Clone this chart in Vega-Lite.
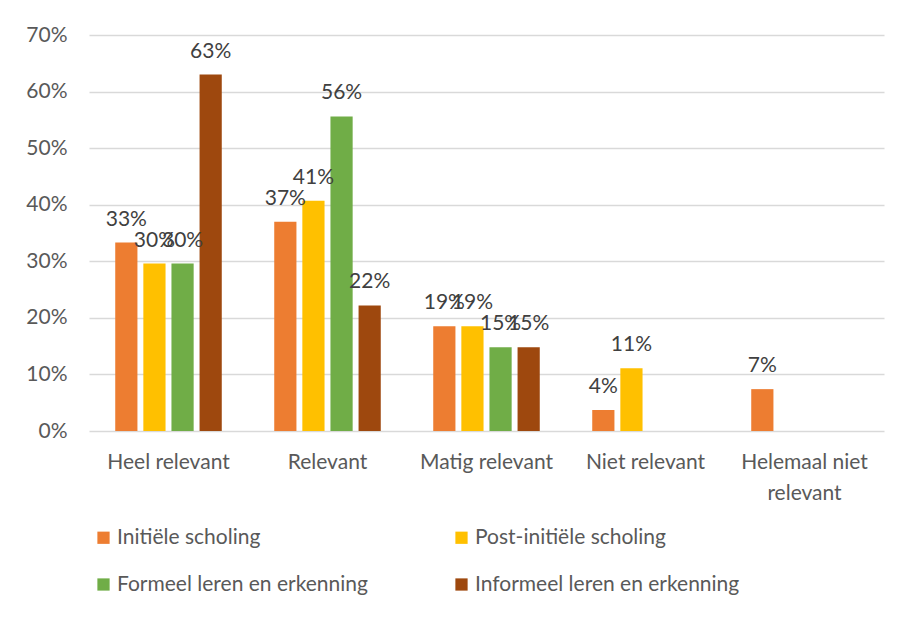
{
  "$schema": "https://vega.github.io/schema/vega-lite/v6.json",
  "width": 795,
  "height": 396,
  "padding": {"left": 25, "top": 24, "right": 15, "bottom": 0},
  "background": "white",
  "data": {
    "values": [
      {"categorie": "Heel relevant", "reeks": "Initiële scholing", "waarde": 0.333},
      {"categorie": "Heel relevant", "reeks": "Post-initiële scholing", "waarde": 0.296},
      {"categorie": "Heel relevant", "reeks": "Formeel leren en erkenning", "waarde": 0.296},
      {"categorie": "Heel relevant", "reeks": "Informeel leren en erkenning", "waarde": 0.630},
      {"categorie": "Relevant", "reeks": "Initiële scholing", "waarde": 0.370},
      {"categorie": "Relevant", "reeks": "Post-initiële scholing", "waarde": 0.407},
      {"categorie": "Relevant", "reeks": "Formeel leren en erkenning", "waarde": 0.556},
      {"categorie": "Relevant", "reeks": "Informeel leren en erkenning", "waarde": 0.222},
      {"categorie": "Matig relevant", "reeks": "Initiële scholing", "waarde": 0.185},
      {"categorie": "Matig relevant", "reeks": "Post-initiële scholing", "waarde": 0.185},
      {"categorie": "Matig relevant", "reeks": "Formeel leren en erkenning", "waarde": 0.148},
      {"categorie": "Matig relevant", "reeks": "Informeel leren en erkenning", "waarde": 0.148},
      {"categorie": "Niet relevant", "reeks": "Initiële scholing", "waarde": 0.037},
      {"categorie": "Niet relevant", "reeks": "Post-initiële scholing", "waarde": 0.111},
      {"categorie": "Helemaal niet relevant", "reeks": "Initiële scholing", "waarde": 0.074}
    ]
  },
  "encoding": {
    "x": {
      "field": "categorie",
      "type": "nominal",
      "sort": ["Heel relevant", "Relevant", "Matig relevant", "Niet relevant", "Helemaal niet relevant"],
      "scale": {"domain": ["Heel relevant", "Relevant", "Matig relevant", "Niet relevant", "Helemaal niet relevant"], "paddingInner": 0.33, "paddingOuter": 0.165},
      "axis": {
        "title": null,
        "labelAngle": 0,
        "labelFontSize": 21,
        "labelColor": "#595959",
        "labelFont": "Lato",
        "labelPadding": 20,
        "labelLineHeight": 31,
        "labelLimit": 300,
        "domain": false,
        "ticks": false,
        "labelExpr": "datum.label == 'Helemaal niet relevant' ? ['Helemaal niet', 'relevant'] : datum.label"
      }
    },
    "xOffset": {
      "field": "reeks",
      "type": "nominal",
      "scale": {"domain": ["Initiële scholing", "Post-initiële scholing", "Formeel leren en erkenning", "Informeel leren en erkenning"], "paddingInner": 0.21}
    },
    "y": {
      "field": "waarde",
      "type": "quantitative",
      "scale": {"domain": [0, 0.7]},
      "axis": {
        "title": null,
        "format": ".0%",
        "values": [0, 0.1, 0.2, 0.3, 0.4, 0.5, 0.6, 0.7],
        "labelOverlap": false,
        "labelFontSize": 21,
        "labelColor": "#595959",
        "labelFont": "Lato",
        "labelPadding": 22,
        "domain": false,
        "ticks": false,
        "gridColor": "#d9d9d9",
        "gridWidth": 1.3
      }
    }
  },
  "layer": [
    {
      "mark": {"type": "bar"},
      "encoding": {
        "color": {
          "field": "reeks",
          "type": "nominal",
          "scale": {
            "domain": ["Initiële scholing", "Post-initiële scholing", "Formeel leren en erkenning", "Informeel leren en erkenning"],
            "range": ["#ED7D31", "#FFC000", "#70AD47", "#9E480E"]
          },
          "legend": {
            "title": null,
            "orient": "none",
            "legendX": 4,
            "legendY": 492,
            "direction": "horizontal",
            "columns": 2,
            "columnPadding": 83,
            "rowPadding": 25,
            "symbolType": "square",
            "symbolSize": 150,
            "symbolStrokeWidth": 0,
            "symbolOpacity": 1,
            "labelFontSize": 21,
            "labelColor": "#595959",
            "labelFont": "Lato",
            "labelOffset": 3,
            "labelLimit": 400
          }
        }
      }
    },
    {
      "mark": {"type": "text", "dy": -23, "fontSize": 21, "color": "#404040", "font": "Lato"},
      "encoding": {
        "text": {"field": "waarde", "type": "quantitative", "format": ".0%"}
      }
    }
  ],
  "config": {"view": {"stroke": null}}
}
